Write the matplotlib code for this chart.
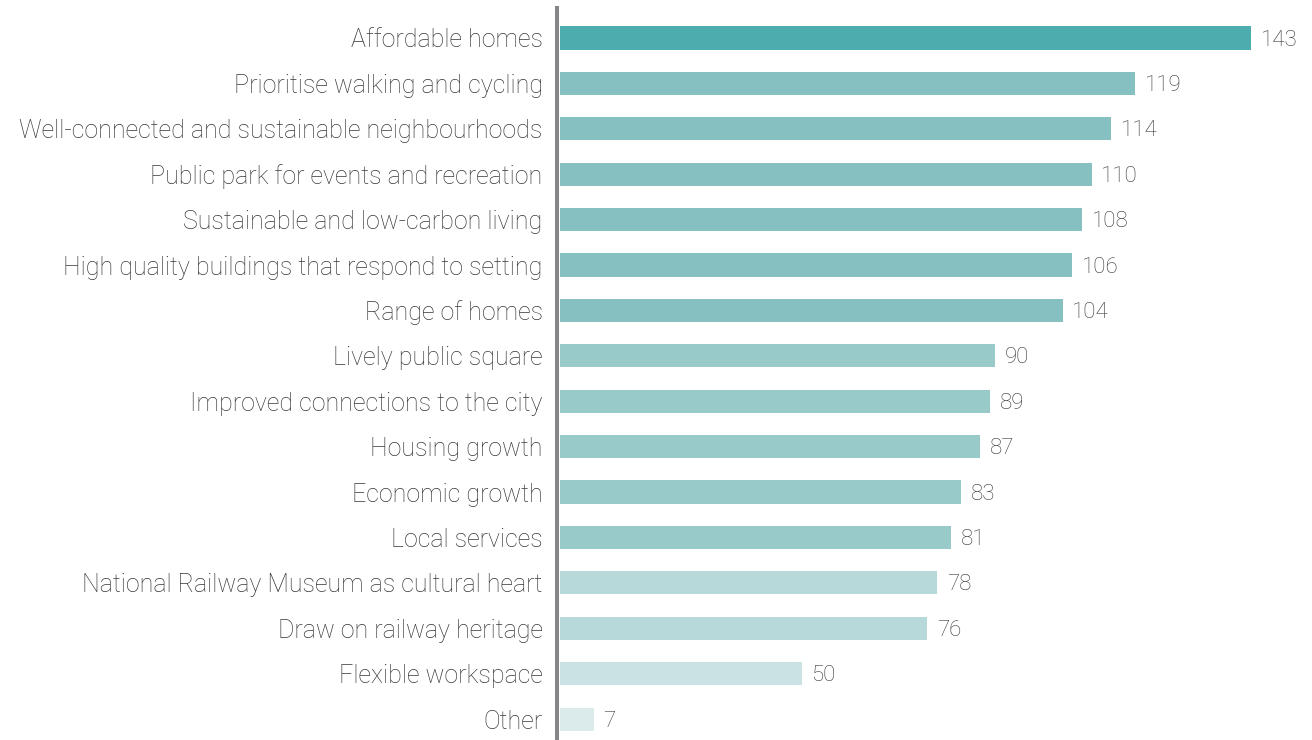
import matplotlib
matplotlib.use("Agg")
import matplotlib.pyplot as plt

categories = [
    "Affordable homes",
    "Prioritise walking and cycling",
    "Well-connected and sustainable neighbourhoods",
    "Public park for events and recreation",
    "Sustainable and low-carbon living",
    "High quality buildings that respond to setting",
    "Range of homes",
    "Lively public square",
    "Improved connections to the city",
    "Housing growth",
    "Economic growth",
    "Local services",
    "National Railway Museum as cultural heart",
    "Draw on railway heritage",
    "Flexible workspace",
    "Other",
]
values = [143, 119, 114, 110, 108, 106, 104, 90, 89, 87, 83, 81, 78, 76, 50, 7]
colors = (["#4DACAE"] + ["#86C0C1"] * 6 + ["#98CACA"] * 5 +
          ["#B8D9DA"] * 2 + ["#CAE2E3"] + ["#DBEAEA"])

plt.rcParams['font.family'] = ['Roboto', 'DejaVu Sans']
plt.rcParams['font.weight'] = 'light'
FS_LAB = 18
FS_VAL = 16
TXT = "#383838"

fig = plt.figure(figsize=(13.12, 7.4), dpi=100)
ax = fig.add_axes([560/1312, 0, 1 - 560/1312, 1 - 8/740])

y = list(range(len(categories)))
ax.barh(y, values, height=0.51, color=colors)
ax.set_ylim(len(categories) - 1 + 0.46, -0.66)
ax.set_xlim(0, 155.6)

ax.set_yticks(y)
ax.set_yticklabels(categories)
ax.tick_params(axis="y", length=0, pad=10.5, labelsize=FS_LAB, labelcolor=TXT)
ax.set_xticks([])

for s in ["top", "right", "bottom"]:
    ax.spines[s].set_visible(False)
ax.spines["left"].set_color("#858589")
ax.spines["left"].set_linewidth(2.9)
ax.spines["left"].set_position(("outward", 2))

for yi, v in zip(y, values):
    ax.annotate(str(v), (v, yi), xytext=(7, -1.5), textcoords="offset points",
                va="center", ha="left", fontsize=FS_VAL, color=TXT)

fig.savefig("out.png", dpi=100)
